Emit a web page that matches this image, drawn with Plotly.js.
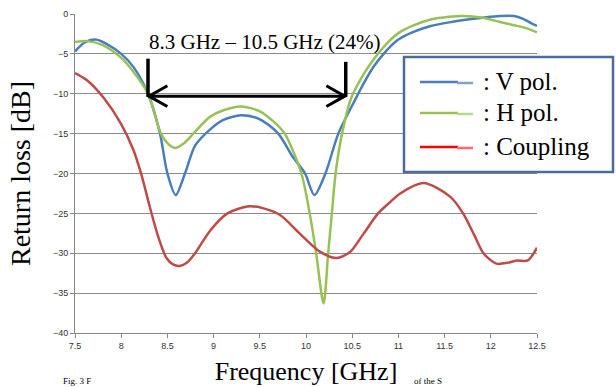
<!DOCTYPE html>
<html>
<head>
<meta charset="utf-8">
<script src="https://cdn.plot.ly/plotly-3.0.1.min.js"></script>
<style>html,body{margin:0;padding:0;background:#fff;}#chart{width:616px;height:387px;}</style>
</head>
<body>
<div id="chart"></div>
<script>
// ---- data ----
const vFreq = [7.5, 7.6, 7.72, 7.85, 8.0, 8.13, 8.29, 8.42, 8.5, 8.59, 8.69, 8.8, 8.96, 9.1, 9.3, 9.5, 9.7, 9.85, 9.99, 10.09, 10.21, 10.35, 10.53, 10.62, 10.72, 10.84, 10.92, 11.0, 11.15, 11.35, 11.55, 11.75, 11.95, 12.1, 12.25, 12.35, 12.43, 12.5];
const vPol  = [-4.7, -3.6, -3.2, -3.8, -5.0, -6.6, -10, -15, -20, -22.7, -20, -16.5, -14.5, -13.3, -12.7, -13.2, -15, -17.8, -20, -22.7, -20, -15, -10.8, -8.8, -6.8, -5.0, -4.0, -3.2, -2.3, -1.5, -1.05, -0.7, -0.4, -0.25, -0.25, -0.6, -1.1, -1.5];

const hFreq = [7.5, 7.63, 7.8, 8.0, 8.13, 8.29, 8.43, 8.5, 8.58, 8.68, 8.78, 8.96, 9.1, 9.3, 9.5, 9.65, 9.77, 9.95, 10.04, 10.11, 10.19, 10.24, 10.28, 10.32, 10.39, 10.49, 10.6, 10.7, 10.8, 10.9, 11.0, 11.15, 11.35, 11.55, 11.7, 11.9, 12.1, 12.25, 12.39, 12.5];
const hPol  = [-3.5, -3.4, -3.9, -5.5, -7.2, -10, -15, -16.2, -16.8, -16.2, -15, -12.9, -12.1, -11.6, -12.2, -13.5, -15, -20, -25, -30, -36.3, -30, -25, -20, -15, -10.5, -8.0, -6.2, -4.7, -3.4, -2.4, -1.5, -0.7, -0.35, -0.25, -0.45, -1.0, -1.4, -1.8, -2.3];

const cFreq = [7.5, 7.63, 7.81, 8.0, 8.13, 8.22, 8.31, 8.4, 8.49, 8.56, 8.63, 8.71, 8.8, 8.96, 9.15, 9.39, 9.55, 9.72, 9.93, 10.15, 10.33, 10.48, 10.62, 10.78, 10.9, 11.02, 11.27, 11.56, 11.7, 11.82, 11.92, 12.06, 12.18, 12.28, 12.4, 12.5];
const coupling = [-7.4, -8.3, -10.5, -13.8, -17.0, -20.2, -24.2, -27.9, -30.6, -31.4, -31.6, -31.2, -30, -27.2, -25.0, -24.1, -24.4, -25.2, -27.5, -29.8, -30.6, -29.8, -27.6, -25, -23.7, -22.5, -21.2, -22.9, -25, -27.7, -30, -31.3, -31.2, -30.9, -30.9, -29.3];

const xTickVals = [7.5, 8, 8.5, 9, 9.5, 10, 10.5, 11, 11.5, 12, 12.5];
const xTickText = ['7.5', '8', '8.5', '9', '9.5', '10', '10.5', '11', '11.5', '12', '12.5'];
const yTickVals = [-40, -35, -30, -25, -20, -15, -10, -5, 0];
const seriesNames = [': V pol.', ': H pol.', ': Coupling'];
const bandLabel = '8.3 GHz \u2013 10.5 GHz (24%)';
const bandStart = 8.3, bandEnd = 10.42, bandLevel = -10.3;
const captionParts = ['Fig. 3 F', 'of the S'];

// ---- styling ----
const cBlue = '#4a7ebb', cGreen = '#98c155', cRed = '#be4b48';
const legRed = '#ff0000';
const serif = 'Liberation Serif, Times New Roman, serif';

const traces = [
  {x: vFreq, y: vPol, name: seriesNames[0], mode: 'lines', line: {color: cBlue, width: 2.5, shape: 'spline', smoothing: 0.8}},
  {x: hFreq, y: hPol, name: seriesNames[1], mode: 'lines', line: {color: cGreen, width: 2.5, shape: 'spline', smoothing: 0.8}},
  {x: cFreq, y: coupling, name: seriesNames[2], mode: 'lines', line: {color: cRed, width: 2.5, shape: 'spline', smoothing: 0.8}}
];

// pixel -> paper helpers for the hand-drawn legend box
const L = 75, R = 79, T = 14, B = 54, W = 616, H = 387;
const pw = W - L - R, ph = H - T - B;
const px = p => (p - L) / pw;
const py = p => (H - B - p) / ph;

const shapes = [];
const annotations = [];

// band arrow
const ax = 0.2, ay = 1.3;
shapes.push({type: 'line', xref: 'x', yref: 'y', x0: bandStart, x1: bandEnd, y0: bandLevel, y1: bandLevel, line: {color: '#000', width: 3}});
shapes.push({type: 'path', xref: 'x', yref: 'y', path: `M ${bandStart + ax},${bandLevel + ay} L ${bandStart},${bandLevel} L ${bandStart + ax},${bandLevel - ay}`, line: {color: '#000', width: 3}});
shapes.push({type: 'path', xref: 'x', yref: 'y', path: `M ${bandEnd - ax},${bandLevel + ay} L ${bandEnd},${bandLevel} L ${bandEnd - ax},${bandLevel - ay}`, line: {color: '#000', width: 3}});
shapes.push({type: 'line', xref: 'x', yref: 'y', x0: bandStart - 0.01, x1: bandStart - 0.01, y0: -5.6, y1: bandLevel, line: {color: '#000', width: 3.5}});
shapes.push({type: 'line', xref: 'x', yref: 'y', x0: bandEnd + 0.01, x1: bandEnd + 0.01, y0: -6.0, y1: bandLevel, line: {color: '#000', width: 3.5}});
annotations.push({xref: 'x', yref: 'y', x: 9.56, y: -3.5, text: bandLabel, showarrow: false, font: {family: serif, size: 21, color: '#000'}});

// legend box
shapes.push({type: 'rect', xref: 'paper', yref: 'paper', x0: px(404), x1: px(613), y0: py(57), y1: py(172), line: {color: '#4d6b98', width: 2.5}, fillcolor: '#fff', layer: 'above'});
const legCols = [[cBlue, '#7aa3d4'], [cGreen, '#b5da8a'], [legRed, '#ff6a6a']];
const legRows = [82, 113, 147];
legRows.forEach((r, i) => {
  shapes.push({type: 'line', xref: 'paper', yref: 'paper', x0: px(420), x1: px(458), y0: py(r), y1: py(r), line: {color: legCols[i][0], width: 2.5}, layer: 'above'});
  shapes.push({type: 'line', xref: 'paper', yref: 'paper', x0: px(457), x1: px(473), y0: py(r + 1), y1: py(r + 1), line: {color: legCols[i][1], width: 2.5}, layer: 'above'});
  annotations.push({xref: 'paper', yref: 'paper', x: px(481), y: py(r - 1), xanchor: 'left', yanchor: 'middle', text: seriesNames[i], showarrow: false, font: {family: serif, size: 25, color: '#000'}});
});

// caption fragments at the picture's bottom edge (kept small so they fit)
annotations.push({xref: 'paper', yref: 'paper', x: px(62), y: py(387), xanchor: 'left', yanchor: 'bottom', text: captionParts[0], showarrow: false, borderpad: 0, font: {family: serif, size: 9, color: '#000'}});
annotations.push({xref: 'paper', yref: 'paper', x: px(413), y: py(387), xanchor: 'left', yanchor: 'bottom', text: captionParts[1], showarrow: false, borderpad: 0, font: {family: serif, size: 9, color: '#000'}});

const layout = {
  width: W, height: H,
  margin: {l: L, r: R, t: T, b: B, pad: 0},
  paper_bgcolor: '#fff', plot_bgcolor: '#fff',
  showlegend: false,
  xaxis: {
    range: [7.5, 12.5], tickvals: xTickVals, ticktext: xTickText,
    showgrid: false, zeroline: false, showline: true, linecolor: '#868686', linewidth: 1,
    ticks: 'outside', ticklen: 4, tickcolor: '#868686',
    tickfont: {family: 'Liberation Sans, Arial, sans-serif', size: 9, color: '#333'},
    title: {text: 'Frequency [GHz]', font: {family: serif, size: 26, color: '#000'}, standoff: 12}
  },
  yaxis: {
    range: [-40, 0], tickvals: yTickVals,
    showgrid: true, gridcolor: '#8c8c8c', gridwidth: 1, zeroline: false,
    showline: true, linecolor: '#868686', linewidth: 1,
    ticks: 'outside', ticklen: 4, tickcolor: '#868686',
    tickfont: {family: 'Liberation Sans, Arial, sans-serif', size: 9, color: '#333'},
    title: {text: 'Return loss [dB]', font: {family: serif, size: 28, color: '#000'}, standoff: 14}
  },
  shapes: shapes,
  annotations: annotations
};

Plotly.newPlot('chart', traces, layout, {displayModeBar: false, staticPlot: true});
</script>
</body>
</html>
